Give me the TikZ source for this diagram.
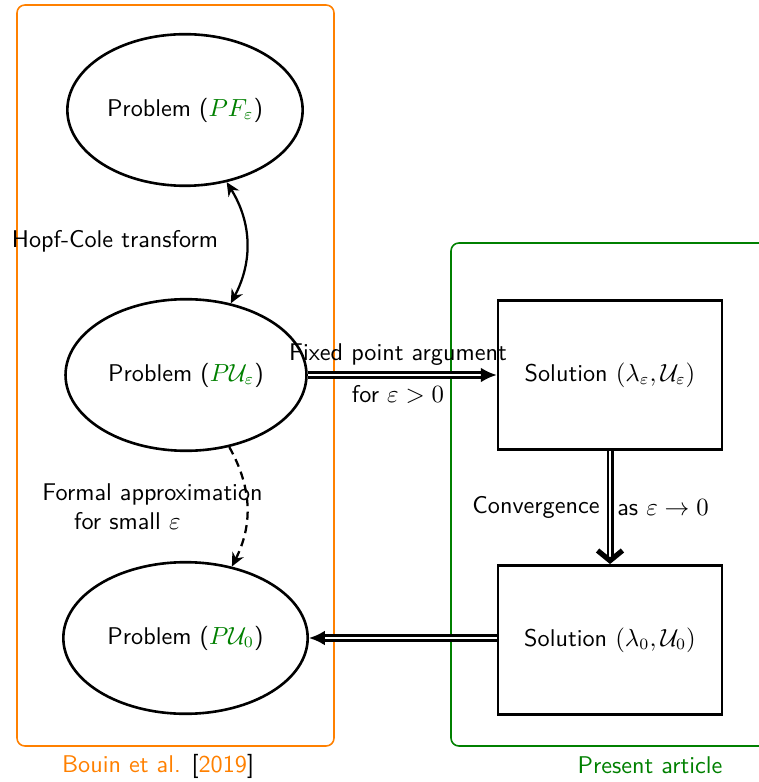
\documentclass[tikz,border=0pt]{standalone}
\usetikzlibrary{arrows.meta,shapes.geometric}
\definecolor{myorange}{RGB}{255,128,0}
\definecolor{mygreen}{RGB}{0,128,0}
\begin{document}
\begin{tikzpicture}[x=0.442pt,y=-0.442pt,font=\sffamily\fontsize{10.7}{13}\selectfont,
  prob/.style={draw,ellipse,line width=1.15pt,inner sep=0pt},
  sol/.style={draw,rectangle,line width=1.15pt,minimum width=99pt,minimum height=66pt,inner sep=0pt},
  frame/.style={line width=0.7pt,rounded corners=3.5pt},
  dbl/.style={double,line width=1.05pt,double distance=1pt},
  curv/.style={line width=1pt,{Stealth[length=6pt,width=5.5pt]}-{Stealth[length=6pt,width=5.5pt]}},
  lab/.style={inner sep=0pt}]
\useasboundingbox (0,0) rectangle (758,782);
% frames
\draw[frame,myorange] (17,5) rectangle (334,746);
\draw[frame,mygreen] (790,243) -- (451,243) -- (451,746) -- (790,746);
% nodes
\node[prob,minimum width=104pt,minimum height=67pt] (pf) at (185,110) {Problem ($\color{mygreen}PF_\varepsilon$)};
\node[prob,minimum width=106.5pt,minimum height=67pt] (pue) at (186,375) {Problem ($\color{mygreen}P\mathcal{U}_\varepsilon$)};
\node[prob,minimum width=108pt,minimum height=67pt] (pu0) at (185.5,638) {Problem ($\color{mygreen}P\mathcal{U}_0$)};
\node[sol] (se) at (610,375) {Solution $(\lambda_\varepsilon,\mathcal{U}_\varepsilon)$};
\node[sol] (s0) at (610,640) {Solution $(\lambda_0,\mathcal{U}_0)$};
% connectors
\draw[curv] (pf.-60) to[bend left=30] (pue.58);
\draw[line width=1pt,dash pattern=on 3.6pt off 2.4pt,-{Stealth[length=6pt,width=5.5pt]}] (pue.-59) to[bend left=28] (pu0.57);
\draw[dbl,-{Latex[length=7pt,width=6.5pt]}] (pue.east) -- (se.west);
\draw[dbl,-{Latex[length=7pt,width=6.5pt]}] (s0.west |- pu0.east) -- (pu0.east);
\draw[dbl,-{Straight Barb[length=4.5pt,width=11pt,line width=2.3pt]}] (se.south) -- (s0.north);
% labels
\node[lab] (lhc) at (115,241) {Hopf-Cole transform};
\node[lab] (lfp1) at (398,355) {Fixed point argument};
\node[lab] (lfp2) at (398,394) {for $\varepsilon>0$};
\node[lab] (lcv1) at (536,507) {Convergence};
\node[lab] (lcv2) at (663,508) {as $\varepsilon\to0$};
\node[lab,align=left,anchor=west] (lfa) at (42,507) {Formal approximation\\\hspace*{14pt}for small $\varepsilon$};
\node[lab,myorange] (lbo) at (158,766) {Bouin et al. {\color{black}[}2019{\color{black}]}};
\node[lab,mygreen] (lpa) at (650,765) {Present article};
\end{tikzpicture}
\end{document}
